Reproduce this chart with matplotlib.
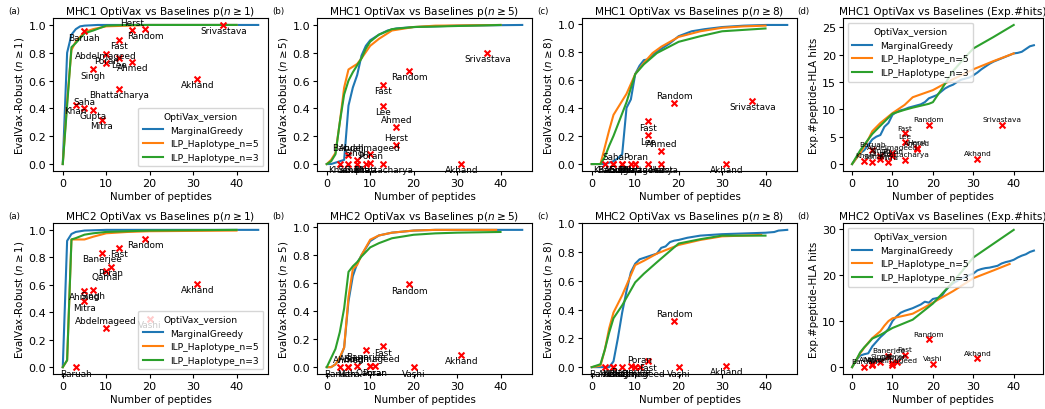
import matplotlib.pyplot as plt

# --- baseline vaccine designs (peptide count and scores) ---
mhc1_names = ["Baruah", "Abdelmageed", "Poran", "Lee", "Ahmed", "Singh", "Bhattacharya",
              "Saha", "Khan", "Gupta", "Mitra", "Herst", "Random", "Fast", "Srivastava", "Akhand"]
mhc1_peps = [5, 10, 10, 13, 16, 7, 13, 5, 3, 7, 9, 16, 19, 13, 37, 31]
mhc1_n1 = [0.955, 0.73, 0.79, 0.76, 0.735, 0.68, 0.54, 0.40, 0.425, 0.39, 0.32, 0.965, 0.97, 0.895, 1.0, 0.615]
mhc1_n5 = [0.065, 0.07, 0.01, 0.42, 0.265, 0.03, 0.0, 0.0, 0.0, 0.0, 0.0, 0.14, 0.67, 0.57, 0.80, 0.0]
mhc1_n8 = [0.0, 0.0, 0.0, 0.205, 0.095, 0.0, 0.0, 0.0, 0.0, 0.0, 0.0, 0.0, 0.435, 0.305, 0.45, 0.0]
mhc1_hits = [2.6, 2.0, 1.4, 4.1, 2.8, 1.5, 0.7, 0.4, 0.6, 0.9, 0.3, 3.0, 7.2, 5.6, 7.2, 0.9]

mhc2_names = ["Baruah", "Ahmed", "Mitra", "Singh", "Banerjee", "Qamar", "Abdelmageed",
              "Poran", "Fast", "Random", "Vashi", "Akhand"]
mhc2_peps = [3, 5, 5, 7, 9, 10, 10, 11, 13, 19, 20, 31]
mhc2_n1 = [0.0, 0.555, 0.48, 0.565, 0.835, 0.70, 0.285, 0.73, 0.87, 0.935, 0.35, 0.605]
mhc2_n5 = [0.0, 0.0, 0.0, 0.01, 0.12, 0.005, 0.01, 0.005, 0.15, 0.59, 0.0, 0.09]
mhc2_n8 = [0.0, 0.0, 0.0, 0.0, 0.01, 0.0, 0.0, 0.0, 0.04, 0.32, 0.0, 0.01]
mhc2_hits = [0.0, 0.6, 0.5, 1.2, 2.4, 0.9, 0.4, 1.2, 2.6, 6.0, 0.7, 1.9]

# --- OptiVax curves: (x, y) ---
series_names = ["MarginalGreedy", "ILP_Haplotype_n=5", "ILP_Haplotype_n=3"]
series_colors = ["#1f77b4", "#ff7f0e", "#2ca02c"]

m1_n1_mg = ([0, 1, 2, 3, 4, 5, 8, 45], [0, 0.80, 0.93, 0.97, 0.99, 0.995, 1.0, 1.0])
m1_n1_h5 = ([0, 1, 2, 3, 5, 7, 10, 15, 20, 40], [0, 0.45, 0.82, 0.88, 0.95, 0.97, 0.99, 0.995, 1.0, 1.0])
m1_n1_h3 = ([0, 1, 2, 3, 5, 7, 10, 15, 40], [0, 0.42, 0.84, 0.87, 0.94, 0.96, 0.995, 1.0, 1.0])

m1_n5_mg = ([0, 1, 2, 3, 4, 5, 6, 7, 8, 9, 10, 12, 14, 16, 20, 25, 30, 45],
            [0, 0.0, 0.01, 0.02, 0.03, 0.42, 0.55, 0.64, 0.78, 0.85, 0.89, 0.93, 0.96, 0.975, 0.985, 0.99, 0.995, 1.0])
m1_n5_h5 = ([0, 1, 2, 3, 4, 5, 6, 7, 8, 10, 12, 15, 20, 25, 40],
            [0, 0.03, 0.08, 0.30, 0.55, 0.68, 0.70, 0.72, 0.76, 0.85, 0.90, 0.96, 0.985, 0.995, 1.0])
m1_n5_h3 = ([0, 1, 2, 3, 4, 5, 6, 7, 8, 9, 10, 12, 15, 20, 40],
            [0, 0.02, 0.07, 0.30, 0.50, 0.60, 0.66, 0.71, 0.76, 0.83, 0.88, 0.93, 0.97, 0.985, 1.0])

m1_n8_mg = ([0, 2, 3, 4, 5, 6, 7, 8, 9, 10, 11, 12, 13, 14, 16, 18, 20, 23, 26, 30, 35, 40, 45],
            [0, 0, 0.0, 0.01, 0.02, 0.04, 0.07, 0.40, 0.46, 0.64, 0.70, 0.74, 0.745, 0.78, 0.82, 0.86, 0.91,
             0.945, 0.96, 0.975, 0.985, 0.99, 0.99])
m1_n8_h5 = ([0, 2, 3, 4, 5, 6, 7, 8, 9, 10, 12, 14, 16, 18, 20, 25, 30, 35, 40],
            [0, 0, 0.12, 0.24, 0.35, 0.40, 0.45, 0.50, 0.57, 0.64, 0.72, 0.79, 0.835, 0.87, 0.905, 0.945,
             0.97, 0.98, 0.985])
m1_n8_h3 = ([0, 2, 3, 4, 5, 6, 7, 8, 9, 10, 12, 15, 20, 25, 30, 40],
            [0, 0, 0.05, 0.13, 0.20, 0.28, 0.36, 0.44, 0.54, 0.64, 0.71, 0.79, 0.87, 0.91, 0.945, 0.965])

m1_hits_mg = (list(range(0, 46)),
              [0, 1.0, 2.0, 2.5, 3.5, 4.5, 5.0, 5.3, 6.8, 7.5, 9.0, 9.5, 9.8, 10.0, 10.3, 10.5, 10.7, 10.9,
               11.3, 12.0, 12.3, 12.6, 13.2, 13.8, 14.2, 14.5, 15.0, 15.4, 15.6, 15.8, 16.2, 16.7, 17.3,
               17.8, 18.3, 18.7, 19.0, 19.3, 19.6, 19.9, 20.2, 20.3, 20.5, 21.0, 21.5, 21.7])
m1_hits_h5 = ([0, 2, 4, 5, 7, 10, 13, 15, 20, 25, 30, 35, 40],
              [0, 2.0, 4.5, 6.0, 7.5, 9.3, 10.8, 12.2, 13.5, 15.5, 17.3, 18.8, 20.2])
m1_hits_h3 = ([0, 2, 5, 7, 10, 13, 15, 19, 20, 22, 25, 28, 30, 35, 40],
              [0, 2.5, 5.5, 7.0, 9.2, 9.9, 10.3, 11.0, 11.3, 13.5, 17.0, 19.5, 21.1, 23.2, 25.4])

m2_n1_mg = ([0, 1, 2, 3, 4, 5, 10, 45], [0, 0.92, 0.97, 0.985, 0.99, 0.995, 1.0, 1.0])
m2_n1_h5 = ([0, 1, 2, 3, 4, 5, 7, 10, 15, 20, 40], [0, 0.05, 0.93, 0.93, 0.93, 0.93, 0.95, 0.975, 0.985, 0.99, 0.995])
m2_n1_h3 = ([0, 1, 2, 3, 5, 7, 10, 15, 20, 40], [0, 0.05, 0.93, 0.94, 0.965, 0.975, 0.985, 0.99, 0.995, 1.0])

m2_n5_mg = ([0, 1, 2, 3, 4, 5, 6, 7, 8, 9, 10, 12, 15, 20, 25, 45],
            [0, 0.0, 0.02, 0.06, 0.14, 0.47, 0.65, 0.74, 0.80, 0.85, 0.90, 0.94, 0.96, 0.975, 0.98, 0.98])
m2_n5_h5 = ([0, 1, 2, 3, 4, 5, 6, 7, 8, 10, 12, 15, 20, 25, 39],
            [0, 0.0, 0.02, 0.07, 0.14, 0.50, 0.70, 0.73, 0.80, 0.91, 0.94, 0.96, 0.975, 0.98, 0.98])
m2_n5_h3 = ([0, 2, 3, 4, 5, 6, 7, 8, 10, 12, 15, 20, 25, 30, 40],
            [0, 0.13, 0.25, 0.42, 0.68, 0.72, 0.75, 0.79, 0.855, 0.885, 0.92, 0.945, 0.955, 0.96, 0.965])

m2_n8_mg = ([0, 2, 3, 4, 5, 6, 7, 8, 9, 10, 11, 12, 13, 14, 15, 16, 17, 18, 19, 20, 22, 25, 30, 35, 40, 42, 43, 45],
            [0, 0, 0.0, 0.0, 0.04, 0.20, 0.38, 0.53, 0.66, 0.72, 0.75, 0.76, 0.77, 0.78, 0.79, 0.83, 0.84,
             0.87, 0.88, 0.885, 0.90, 0.915, 0.925, 0.93, 0.935, 0.94, 0.95, 0.955])
m2_n8_h5 = ([0, 2, 3, 4, 5, 6, 7, 8, 9, 10, 12, 15, 20, 25, 30, 35, 39],
            [0, 0.01, 0.12, 0.27, 0.38, 0.44, 0.50, 0.57, 0.64, 0.71, 0.74, 0.79, 0.85, 0.885, 0.91, 0.915, 0.92])
m2_n8_h3 = ([0, 2, 3, 4, 5, 7, 10, 12, 15, 20, 25, 30, 40],
            [0, 0.02, 0.12, 0.24, 0.34, 0.43, 0.59, 0.65, 0.73, 0.86, 0.89, 0.915, 0.915])

m2_hits_mg = (list(range(0, 46)),
              [0, 1.5, 2.5, 2.8, 3.0, 4.5, 5.5, 6.5, 7.3, 8.3, 10.0, 11.0, 11.8, 12.2, 12.5, 12.8, 13.2, 13.6,
               14.2, 14.0, 14.8, 15.0, 15.2, 16.5, 17.5, 18.2, 18.7, 19.3, 19.5, 20.0, 20.3, 21.0, 21.3,
               21.5, 21.6, 21.8, 22.0, 22.5, 22.8, 23.0, 23.3, 23.8, 24.2, 24.5, 25.0, 25.3])
m2_hits_h5 = ([0, 1, 2, 3, 4, 5, 7, 8, 9, 10, 12, 15, 18, 20, 25, 30, 35, 39],
              [0, 1.5, 3.0, 4.2, 5.3, 6.3, 7.8, 9.0, 10.0, 10.6, 11.0, 11.6, 13.0, 14.0, 16.5, 19.3, 21.0, 22.4])
m2_hits_h3 = ([0, 1, 2, 3, 4, 5, 7, 10, 15, 20, 25, 30, 35, 40],
              [0, 1.5, 3.2, 4.3, 5.2, 6.2, 7.0, 8.5, 10.3, 13.8, 18.5, 23.8, 26.8, 29.8])

# labels that sit above their marker (everything else goes below)
above_labels = [
    ["Herst", "Abdelmageed", "Saha"],
    ["Ahmed", "Herst", "Abdelmageed", "Singh", "Poran", "Baruah"],
    ["Random", "Ahmed", "Saha", "Poran"],
    None,
    ["Abdelmageed"],
    ["Abdelmageed", "Ahmed", "Singh"],
    ["Random", "Poran"],
    None,
]

panels = [
    ("(a)", "MHC1 OptiVax vs Baselines p($n\\geq1$)", "EvalVax-Robust ($n\\geq1$)",
     [m1_n1_mg, m1_n1_h5, m1_n1_h3], mhc1_names, mhc1_peps, mhc1_n1, "lower right"),
    ("(b)", "MHC1 OptiVax vs Baselines p($n\\geq5$)", "EvalVax-Robust ($n\\geq5$)",
     [m1_n5_mg, m1_n5_h5, m1_n5_h3], mhc1_names, mhc1_peps, mhc1_n5, None),
    ("(c)", "MHC1 OptiVax vs Baselines p($n\\geq8$)", "EvalVax-Robust ($n\\geq8$)",
     [m1_n8_mg, m1_n8_h5, m1_n8_h3], mhc1_names, mhc1_peps, mhc1_n8, None),
    ("(d)", "MHC1 OptiVax vs Baselines (Exp.#hits)", "Exp.#peptide-HLA hits",
     [m1_hits_mg, m1_hits_h5, m1_hits_h3], mhc1_names, mhc1_peps, mhc1_hits, "upper left"),
    ("(a)", "MHC2 OptiVax vs Baselines p($n\\geq1$)", "EvalVax-Robust ($n\\geq1$)",
     [m2_n1_mg, m2_n1_h5, m2_n1_h3], mhc2_names, mhc2_peps, mhc2_n1, "lower right"),
    ("(b)", "MHC2 OptiVax vs Baselines p($n\\geq5$)", "EvalVax-Robust ($n\\geq5$)",
     [m2_n5_mg, m2_n5_h5, m2_n5_h3], mhc2_names, mhc2_peps, mhc2_n5, None),
    ("(c)", "MHC2 OptiVax vs Baselines p($n\\geq8$)", "EvalVax-Robust ($n\\geq8$)",
     [m2_n8_mg, m2_n8_h5, m2_n8_h3], mhc2_names, mhc2_peps, mhc2_n8, None),
    ("(d)", "MHC2 OptiVax vs Baselines (Exp.#hits)", "Exp.#peptide-HLA hits",
     [m2_hits_mg, m2_hits_h5, m2_hits_h3], mhc2_names, mhc2_peps, mhc2_hits, "upper left"),
]

W, H = 1045, 410
fig = plt.figure(figsize=(W / 100, H / 100), dpi=100)

# axes boxes in pixels: (left, right) per column, (top, bottom) per row
cols = [(53, 268), (317, 532), (582, 797), (843, 1043)]
rows = [(19, 172), (224, 375)]

for i, (tag, title, ylabel, curves, names, peps, vals, legloc) in enumerate(panels):
    r, c = divmod(i, 4)
    l, rt = cols[c]
    t, b = rows[r]
    ax = fig.add_axes([l / W, 1 - b / H, (rt - l) / W, (b - t) / H])

    for (xs, ys), name, col in zip(curves, series_names, series_colors):
        ax.plot(xs, ys, color=col, lw=1.5, label=name)

    ax.scatter(peps, vals, marker="x", color="red", s=18, linewidths=1.5, zorder=3)

    is_hits = c == 3
    above = above_labels[i] or []
    for name, x, y in zip(names, peps, vals):
        if is_hits or name in above:
            ax.annotate(name, (x, y), xytext=(0, 2), textcoords="offset points",
                        ha="center", va="bottom", fontsize=5.3 if is_hits else 6.4)
        else:
            ax.annotate(name, (x, y), xytext=(0, -1), textcoords="offset points",
                        ha="center", va="top", fontsize=6.4)

    ax.set_title(title, fontsize=7.6, pad=3)
    ax.set_xlabel("Number of peptides", fontsize=7.4, labelpad=2)
    ax.set_ylabel(ylabel, fontsize=7.4, labelpad=2)
    ax.tick_params(labelsize=8, pad=2, length=3)
    ax.set_xticks([0, 10, 20, 30, 40])
    ax.text(-0.21 if c < 3 else -0.23, 1.05, tag, transform=ax.transAxes,
            fontsize=6.2, ha="left", va="center")

    if legloc:
        ax.legend(title="OptiVax_version", loc=legloc, fontsize=6.6, title_fontsize=6.6,
                  handlelength=2.2, borderpad=0.5, labelspacing=0.5)

fig.savefig("out.png", dpi=100)
